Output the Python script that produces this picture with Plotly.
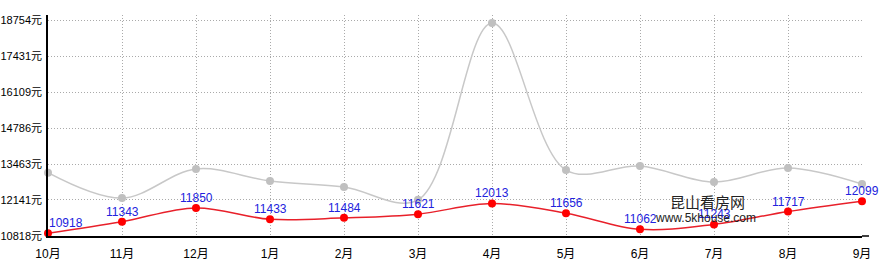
import plotly.graph_objects as go

months = ["10月", "11月", "12月", "1月", "2月", "3月", "4月", "5月", "6月", "7月", "8月", "9月"]
gray_values = [13144, 12210, 13280, 12836, 12615, 12147, 18640, 13242, 13390, 12800, 13316, 12725]
red_values = [10918, 11343, 11850, 11433, 11484, 11621, 12013, 11656, 11062, 11243, 11717, 12099]
y_ticks = [10818, 12141, 13463, 14786, 16109, 17431, 18754]
y_tick_text = [f"{v}元" for v in y_ticks]

FONT = "Liberation Sans, Arial, Noto Sans CJK SC, sans-serif"
x = list(range(len(months)))

fig = go.Figure()
fig.add_trace(go.Scatter(
    x=x, y=gray_values, mode="lines+markers",
    line=dict(color="#c8c8c8", width=1.5, shape="spline", smoothing=1),
    marker=dict(color="#c0c0c0", size=8),
    hoverinfo="skip", showlegend=False, cliponaxis=False,
))
fig.add_trace(go.Scatter(
    x=x, y=red_values, mode="lines+markers",
    line=dict(color="#e8202a", width=1.5, shape="spline", smoothing=1),
    marker=dict(color="#ff0000", size=8),
    hoverinfo="skip", showlegend=False, cliponaxis=False,
))

# value labels above red points
for i, v in enumerate(red_values):
    fig.add_annotation(
        x=x[i], y=v, text=str(v), showarrow=False,
        xanchor="center", yanchor="middle",
        xshift=18 if i == 0 else 0, yshift=10,
        font=dict(color="#2222dd", size=12, family=FONT),
    )

fig.add_annotation(x=(707 - 48) / 814, y=(236 - 201) / 221, xref="paper", yref="paper",
                   text="昆山看房网", showarrow=False, xanchor="center", yanchor="middle",
                   font=dict(size=15, color="#222", family="Noto Sans CJK SC"))
fig.add_annotation(x=(705 - 48) / 814, y=(236 - 218) / 221, xref="paper", yref="paper",
                   text="www.5khouse.com", showarrow=False, xanchor="center", yanchor="middle",
                   font=dict(size=12, color="#222", family=FONT))
# extend bottom axis line slightly beyond last category
fig.add_shape(type="line", xref="paper", yref="paper", x0=1, x1=1 + 7 / 814, y0=0, y1=0,
              line=dict(color="black", width=1.5))

fig.update_layout(
    width=892, height=270,
    margin=dict(l=48, r=30, t=15, b=34),
    plot_bgcolor="white", paper_bgcolor="white",
    font=dict(family=FONT, size=12, color="black"),
    xaxis=dict(
        range=[0, 11], tickvals=x, ticktext=months,
        showgrid=True, gridcolor="#aaaaaa", griddash="1px,2px", gridwidth=1,
        showline=True, linecolor="black", linewidth=1.5,
        zeroline=False, ticks="", tickfont=dict(size=12), automargin=False,
        ticklabelstandoff=6,
    ),
    yaxis=dict(
        range=[10818, 18938], tickvals=y_ticks, ticktext=y_tick_text,
        showgrid=True, gridcolor="#aaaaaa", griddash="1px,2px", gridwidth=1,
        showline=True, linecolor="black", linewidth=1.5,
        zeroline=False, ticks="", tickfont=dict(size=11), ticklabelstandoff=2,
        automargin=False,
    ),
)

fig.write_html("out.html")
